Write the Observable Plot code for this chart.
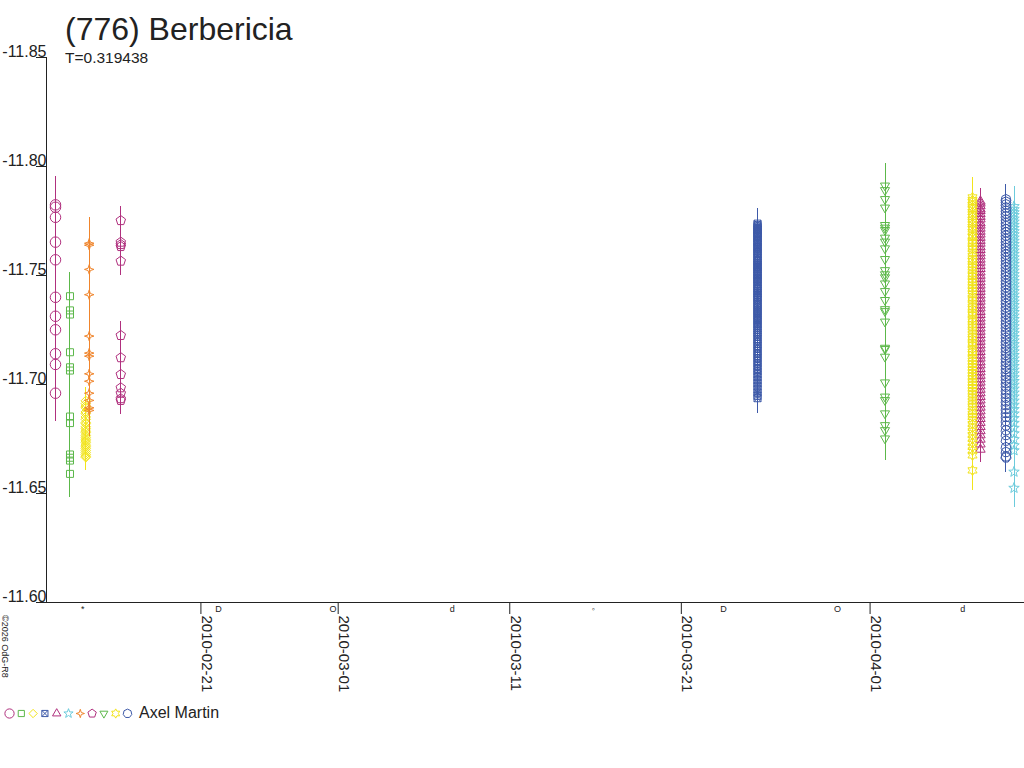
<!DOCTYPE html>
<html>
<head>
<meta charset="utf-8">
<script src="https://cdn.jsdelivr.net/npm/d3@7"></script>
<script src="https://cdn.jsdelivr.net/npm/@observablehq/plot@0.6"></script>
<style>
  body { margin: 0; background: #fff; font-family: "Liberation Sans", Arial, sans-serif; color: #222; }
  #wrap { position: relative; width: 1024px; height: 768px; overflow: hidden; background: #fff; }
  #chart { position: absolute; left: 0; top: 0; }
  #title { position: absolute; left: 65px; top: 13px; font-size: 32px; line-height: 32px; white-space: nowrap; color: #222; }
  #subtitle { position: absolute; left: 65px; top: 50px; font-size: 15.5px; line-height: 15.5px; white-space: nowrap; color: #222; }
  #copy { position: absolute; left: 9px; top: 615px; font-size: 9px; line-height: 9px; white-space: nowrap; transform-origin: 0 0; transform: rotate(90deg); color: #222; }
  #legend { position: absolute; left: 0; top: 703px; }
  #observer { position: absolute; left: 139px; top: 705px; font-size: 16px; line-height: 16px; white-space: nowrap; color: #222; }
  #chart line { shape-rendering: crispEdges; }
</style>
</head>
<body>
<div id="wrap">
  <div id="chart"></div>
  <div id="title"></div>
  <div id="subtitle"></div>
  <div id="copy"></div>
  <div id="legend"></div>
  <div id="observer"></div>
</div>
<script>
// ---------- text ----------
const titleText = "(776) Berbericia";
const subtitleText = "T=0.319438";
const copyrightText = "©2026 OdG-R8";
const observerName = "Axel Martin";

// ---------- axes ----------
const xDomain = ["2010-02-12T00:00Z", "2010-04-10T00:00Z"];
const xTickDates = ["2010-02-21T00:00Z", "2010-03-01T00:00Z", "2010-03-11T00:00Z", "2010-03-21T00:00Z", "2010-04-01T00:00Z"];
const xTickLabels = ["2010-02-21", "2010-03-01", "2010-03-11", "2010-03-21", "2010-04-01"];
const yDomain = [-11.60, -11.85];
const yTicks = [-11.85, -11.80, -11.75, -11.70, -11.65, -11.60];

// ---------- moon phases ----------
const moonDates = ["2010-02-14T02:51Z", "2010-02-22T00:42Z", "2010-02-28T16:38Z", "2010-03-07T15:42Z",
                   "2010-03-15T21:01Z", "2010-03-23T11:00Z", "2010-03-30T02:25Z", "2010-04-06T09:37Z"];
const moonGlyphs = ["*", "D", "O", "d", "◦", "D", "O", "d"];

// ---------- sessions (legend order) ----------
const sessionSymbols = ["circle", "square", "diamond", "xsquare", "triangle", "star", "star4", "pentagon", "tridown", "star6", "heptagon"];
const sessionColors = ["#b0307e", "#5cb84a", "#f2e41c", "#3d59a8", "#b0307e", "#6ccbdc", "#f0852c", "#b0307e", "#5cb84a", "#f2e41c", "#3d59a8"];
const sessionTimes = ["2010-02-12T12:35Z", "2010-02-13T08:52Z", "2010-02-14T06:58Z", "2010-03-25T10:34Z",
                      "2010-04-07T10:20Z", "2010-04-09T09:20Z", "2010-02-14T11:44Z", "2010-02-16T07:55Z",
                      "2010-04-01T20:53Z", "2010-04-06T23:17Z", "2010-04-08T22:05Z"];
const sessionErrors = [0.013, 0.011, 0.006, 0.007, 0.006, 0.009, 0.012, 0.0065, 0.010, 0.009, 0.007];

const magCircle = [-11.7824, -11.7813, -11.7767, -11.7653, -11.7572, -11.7400, -11.7313, -11.7251, -11.7141, -11.7092, -11.6960];
const magSquare = [-11.7405, -11.7340, -11.7321, -11.7148, -11.7079, -11.7064, -11.6853, -11.6823, -11.6679, -11.6664, -11.6651, -11.6590];
const magDiamond = [-11.6925, -11.6912, -11.6901, -11.6893, -11.6874, -11.6866, -11.6851, -11.6840, -11.6826, -11.6820,
                    -11.6806, -11.6797, -11.6786, -11.6779, -11.6767, -11.6758, -11.6749, -11.6741, -11.6733, -11.6722,
                    -11.6714, -11.6706, -11.6697, -11.6688, -11.6679, -11.6671, -11.6666];
const magXSquare = [-11.7738, -11.7731, -11.7725, -11.7719, -11.7712, -11.7708, -11.7701, -11.7694, -11.7690, -11.7683,
                    -11.7677, -11.7670, -11.7662, -11.7655, -11.7650, -11.7641, -11.7633, -11.7627, -11.7620, -11.7611,
                    -11.7604, -11.7598, -11.7588, -11.7579, -11.7571, -11.7566, -11.7558, -11.7549, -11.7542, -11.7536,
                    -11.7529, -11.7521, -11.7515, -11.7507, -11.7499, -11.7490, -11.7483, -11.7478, -11.7470, -11.7460,
                    -11.7451, -11.7443, -11.7437, -11.7428, -11.7419, -11.7411, -11.7402, -11.7396, -11.7387, -11.7376,
                    -11.7368, -11.7359, -11.7350, -11.7341, -11.7333, -11.7324, -11.7315, -11.7305, -11.7296, -11.7288,
                    -11.7277, -11.7268, -11.7258, -11.7249, -11.7238, -11.7229, -11.7219, -11.7208, -11.7197, -11.7186,
                    -11.7176, -11.7165, -11.7153, -11.7142, -11.7131, -11.7120, -11.7108, -11.7096, -11.7084, -11.7072,
                    -11.7060, -11.7047, -11.7034, -11.7020, -11.7006, -11.6992, -11.6978, -11.6963, -11.6948, -11.6937];
const magTriangle = [-11.7840, -11.7831, -11.7819, -11.7805, -11.7797, -11.7783, -11.7770, -11.7758, -11.7741, -11.7730,
                     -11.7716, -11.7702, -11.7689, -11.7674, -11.7660, -11.7647, -11.7631, -11.7618, -11.7603, -11.7589,
                     -11.7574, -11.7560, -11.7545, -11.7531, -11.7515, -11.7500, -11.7486, -11.7470, -11.7455, -11.7440,
                     -11.7426, -11.7410, -11.7395, -11.7381, -11.7364, -11.7350, -11.7334, -11.7320, -11.7304, -11.7289,
                     -11.7274, -11.7258, -11.7243, -11.7228, -11.7212, -11.7197, -11.7181, -11.7166, -11.7150, -11.7134,
                     -11.7120, -11.7103, -11.7089, -11.7072, -11.7057, -11.7041, -11.7025, -11.7010, -11.6993, -11.6977,
                     -11.6961, -11.6944, -11.6928, -11.6911, -11.6895, -11.6878, -11.6860, -11.6843, -11.6825, -11.6806,
                     -11.6787, -11.6768, -11.6748, -11.6726, -11.6702];
const magStar = [-11.7817, -11.7803, -11.7789, -11.7776, -11.7760, -11.7746, -11.7731, -11.7717, -11.7702, -11.7688,
                 -11.7673, -11.7658, -11.7643, -11.7628, -11.7613, -11.7598, -11.7582, -11.7567, -11.7552, -11.7536,
                 -11.7521, -11.7505, -11.7490, -11.7474, -11.7458, -11.7443, -11.7427, -11.7411, -11.7395, -11.7379,
                 -11.7363, -11.7347, -11.7331, -11.7315, -11.7299, -11.7283, -11.7266, -11.7250, -11.7234, -11.7217,
                 -11.7201, -11.7184, -11.7168, -11.7151, -11.7134, -11.7118, -11.7101, -11.7084, -11.7067, -11.7050,
                 -11.7032, -11.7015, -11.6998, -11.6980, -11.6962, -11.6944, -11.6925, -11.6906, -11.6886, -11.6866,
                 -11.6845, -11.6823, -11.6800, -11.6775, -11.6748, -11.6720, -11.6697, -11.6599, -11.6525];
const magStar4 = [-11.7648, -11.7639, -11.7528, -11.7412, -11.7222, -11.7144, -11.7130, -11.7049, -11.7015, -11.6960, -11.6927, -11.6893, -11.6881];
const magPentagon = [-11.7752, -11.7653, -11.7642, -11.7633, -11.7566, -11.7225, -11.7123, -11.7046, -11.6985, -11.6960, -11.6935, -11.6927];
const magTriDown = [-11.7912, -11.7891, -11.7850, -11.7811, -11.7731, -11.7719, -11.7708, -11.7673, -11.7655, -11.7624,
                    -11.7575, -11.7524, -11.7505, -11.7491, -11.7463, -11.7428, -11.7387, -11.7345, -11.7336, -11.7288,
                    -11.7168, -11.7162, -11.7127, -11.7009, -11.6944, -11.6928, -11.6867, -11.6813, -11.6790, -11.6752];
const magStar6 = [-11.7858, -11.7846, -11.7839, -11.7825, -11.7812, -11.7806, -11.7791, -11.7779, -11.7770, -11.7756,
                  -11.7744, -11.7735, -11.7721, -11.7712, -11.7698, -11.7683, -11.7676, -11.7660, -11.7648, -11.7633,
                  -11.7621, -11.7605, -11.7590, -11.7574, -11.7565, -11.7551, -11.7538, -11.7524, -11.7509, -11.7497,
                  -11.7482, -11.7470, -11.7455, -11.7441, -11.7429, -11.7414, -11.7398, -11.7386, -11.7371, -11.7357,
                  -11.7345, -11.7330, -11.7318, -11.7301, -11.7289, -11.7275, -11.7262, -11.7248, -11.7233, -11.7219,
                  -11.7207, -11.7192, -11.7180, -11.7163, -11.7150, -11.7138, -11.7121, -11.7108, -11.7095, -11.7081,
                  -11.7066, -11.7053, -11.7040, -11.7027, -11.7012, -11.6998, -11.6984, -11.6969, -11.6955, -11.6941,
                  -11.6926, -11.6912, -11.6898, -11.6880, -11.6866, -11.6851, -11.6835, -11.6818, -11.6802, -11.6785,
                  -11.6768, -11.6751, -11.6733, -11.6714, -11.6697, -11.6675, -11.6606];
const magHeptagon = [-11.7849, -11.7838, -11.7826, -11.7812, -11.7797, -11.7784, -11.7771, -11.7755, -11.7741, -11.7727,
                     -11.7712, -11.7698, -11.7683, -11.7668, -11.7655, -11.7640, -11.7626, -11.7610, -11.7596, -11.7581,
                     -11.7567, -11.7551, -11.7537, -11.7521, -11.7506, -11.7492, -11.7476, -11.7461, -11.7446, -11.7431,
                     -11.7416, -11.7401, -11.7385, -11.7370, -11.7354, -11.7339, -11.7324, -11.7308, -11.7292, -11.7277,
                     -11.7262, -11.7245, -11.7230, -11.7214, -11.7198, -11.7183, -11.7167, -11.7151, -11.7135, -11.7119,
                     -11.7103, -11.7087, -11.7071, -11.7055, -11.7038, -11.7022, -11.7006, -11.6990, -11.6973, -11.6956,
                     -11.6939, -11.6922, -11.6905, -11.6887, -11.6869, -11.6851, -11.6832, -11.6812, -11.6790, -11.6768,
                     -11.6742, -11.6712, -11.6690, -11.6670, -11.6665];
const sessionMags = [magCircle, magSquare, magDiamond, magXSquare, magTriangle, magStar, magStar4, magPentagon, magTriDown, magStar6, magHeptagon];

// ---------- symbol shapes ----------
const rad = s => Math.sqrt(s / Math.PI);
function polygon(n, k, rot) {
  return {draw(c, s) {
    const r = rad(s) * k;
    for (let i = 0; i < n; i++) {
      const a = rot + 2 * Math.PI * i / n;
      const x = r * Math.sin(a), y = -r * Math.cos(a);
      if (i) c.lineTo(x, y); else c.moveTo(x, y);
    }
    c.closePath();
  }};
}
function starShape(n, ko, ki, rot) {
  return {draw(c, s) {
    const r = rad(s);
    for (let i = 0; i < 2 * n; i++) {
      const a = rot + Math.PI * i / n;
      const rr = r * (i % 2 ? ki : ko);
      const x = rr * Math.sin(a), y = -rr * Math.cos(a);
      if (i) c.lineTo(x, y); else c.moveTo(x, y);
    }
    c.closePath();
  }};
}
const shapes = {
  circle: {draw(c, s) { const r = rad(s) * 1.05; c.moveTo(r, 0); c.arc(0, 0, r, 0, 2 * Math.PI); }},
  square: polygon(4, 0.7 * Math.SQRT2, Math.PI / 4),
  diamond: polygon(4, 0.95, 0),
  xsquare: {draw(c, s) {
    const h = rad(s) * 0.7;
    c.moveTo(-h, -h); c.lineTo(h, -h); c.lineTo(h, h); c.lineTo(-h, h); c.closePath();
    c.moveTo(-h, -h); c.lineTo(h, h); c.moveTo(h, -h); c.lineTo(-h, h);
  }},
  triangle: polygon(3, 1.1, 0),
  star: starShape(5, 1.1, 0.45, 0),
  star4: starShape(4, 0.95, 0.32, 0),
  pentagon: polygon(5, 1.0, 0),
  tridown: polygon(3, 1.05, Math.PI),
  star6: starShape(6, 1.05, 0.6, 0),
  heptagon: polygon(7, 1.0, 0)
};

// ---------- build ----------
const parse = s => new Date(s);
const sessions = sessionSymbols.map((sym, i) => ({
  symbol: shapes[sym],
  color: sessionColors[i],
  err: sessionErrors[i],
  rows: sessionMags[i].map(m => ({date: parse(sessionTimes[i]), mag: m}))
}));

const seriesMarks = sessions.flatMap(s => [
  Plot.ruleX(s.rows, {x: "date", y1: d => d.mag - s.err, y2: d => d.mag + s.err, stroke: s.color, strokeWidth: 1}),
  Plot.dot(s.rows, {x: "date", y: "mag", symbol: s.symbol, r: 5, stroke: s.color, fill: "none", strokeWidth: 1})
]);

const xTicks = xTickDates.map(parse);
const moon = moonDates.map((d, i) => ({date: parse(d), glyph: moonGlyphs[i]}));

const chart = Plot.plot({
  width: 1024,
  height: 700,
  marginLeft: 46,
  marginRight: 0,
  marginTop: 57,
  marginBottom: 98,
  style: {fontFamily: "'Liberation Sans', Arial, sans-serif", color: "#222", background: "transparent"},
  x: {type: "utc", domain: xDomain.map(parse), ticks: xTicks, tickSize: 12, tickFormat: () => "", label: null},
  y: {domain: yDomain, ticks: yTicks, tickSize: 10, tickFormat: () => "", label: null},
  marks: [
    ...seriesMarks,
    Plot.ruleX([parse(xDomain[0])], {stroke: "#222"}),
    Plot.ruleY([yDomain[0]], {stroke: "#222"}),
    Plot.text(yTicks, {y: d => d, text: d => d.toFixed(2), frameAnchor: "left", textAnchor: "end", lineAnchor: "bottom", dy: -1, fontSize: 16, fill: "#222"}),
    Plot.text(xTicks, {x: d => d, text: (d, i) => xTickLabels[i], frameAnchor: "bottom", rotate: 90, textAnchor: "start", lineAnchor: "bottom", dx: 1, dy: 13, fontSize: 15, fill: "#222"}),
    Plot.text(moon, {x: "date", text: "glyph", frameAnchor: "bottom", lineAnchor: "top", dy: 3, fontSize: 9, fill: "#222"})
  ]
});
document.getElementById("chart").appendChild(chart);

// ---------- legend ----------
const legend = Plot.plot({
  width: 140, height: 20,
  marginLeft: 9, marginRight: 13, marginTop: 0, marginBottom: 0,
  style: {background: "transparent"},
  x: {domain: [0, sessionSymbols.length - 1], axis: null},
  y: {axis: null},
  marks: sessionSymbols.map((sym, i) => Plot.dot([i], {x: d => d, symbol: shapes[sym], r: 4.4, stroke: sessionColors[i], fill: "none", strokeWidth: 1}))
});
document.getElementById("legend").appendChild(legend);

document.getElementById("title").textContent = titleText;
document.getElementById("subtitle").textContent = subtitleText;
document.getElementById("copy").textContent = copyrightText;
document.getElementById("observer").textContent = observerName;
</script>
</body>
</html>
